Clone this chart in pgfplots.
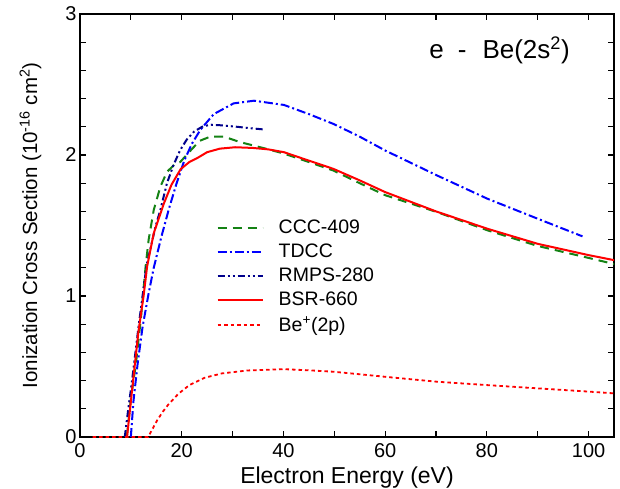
\documentclass[border=0pt]{standalone}
\usepackage{fontspec}
\setmainfont{Liberation Sans}
\usepackage{pgfplots}
\pgfplotsset{compat=1.18}
\usetikzlibrary{calc}
\definecolor{cccgreen}{RGB}{20,130,20}
\definecolor{tdccblue}{RGB}{0,0,255}
\definecolor{rmpsnavy}{RGB}{0,0,140}
\begin{document}
\begin{tikzpicture}
\begin{axis}[
    name=ax,
    scale only axis,
    width=534pt, height=423pt,
    xmin=0, xmax=105, ymin=0, ymax=3,
    xtick={0,20,...,100}, ytick={0,1,2,3},
    minor x tick num=1, minor y tick num=4,
    tick align=inside, major tick length=6pt, minor tick length=6pt,
    tick style={line width=1.2pt, black},
    axis line style={line width=1.5pt},
    /pgf/number format/assume math mode=true,
    tick label style={font=\fontsize{20}{22}\selectfont},
    xticklabel style={yshift=-3pt},
    xlabel style={font=\fontsize{23}{25}\selectfont, yshift=-2pt},
    ylabel style={font=\fontsize{20.5}{23}\selectfont, yshift=17pt},
    xlabel={Electron Energy (eV)},
    ylabel={Ionization Cross Section (10\textsuperscript{-16} cm\textsuperscript{2})},
    legend style={draw=none, fill=none, at={(0.25,0.523)}, anchor=north west,
        row sep=5pt, font=\fontsize{19.5}{22}\selectfont},
    legend cell align=left,
    legend image code/.code={\draw[#1] (0pt,0pt) -- (45pt,0pt); \path (58pt,0pt);},
]
\addplot[forget plot, cccgreen, line width=2pt, dash pattern=on 9pt off 6pt] coordinates {
 (9.2,0) (10,0.27) (11,0.52) (12,0.85) (12.9,1.21) (13.5,1.40) (14.5,1.61) (15.8,1.775)
 (17.1,1.88) (18.5,1.93) (19.7,1.95) (21.7,2.03) (23.5,2.10) (25.6,2.13) (28.3,2.13)
 (31.6,2.09) (36,2.05) (40.1,2.01) (45,1.95) (49.8,1.89) (55,1.80) (60,1.715)
 (70.2,1.595) (80.1,1.466) (90,1.355) (100,1.27) (105.2,1.225)};
\addplot[forget plot, tdccblue, line width=2pt, dash pattern=on 9pt off 3pt on 2pt off 3pt] coordinates {
 (10,0) (10.5,0.25) (11.3,0.51) (12.3,0.78) (13.5,1.02) (14.5,1.2) (16,1.42) (17.5,1.62)
 (19,1.80) (20.5,1.96) (22,2.08) (23.7,2.18) (26.3,2.29) (30.2,2.366) (34.2,2.385)
 (40.1,2.355) (45,2.29) (49.8,2.221) (55,2.13) (60,2.032) (70.2,1.855) (80.1,1.69)
 (90,1.548) (98.8,1.423)};
\addplot[forget plot, rmpsnavy, line width=2pt, dash pattern=on 7pt off 3pt on 2pt off 3pt on 2pt off 3pt] coordinates {
 (8.8,0) (9.5,0.2) (10.2,0.39) (11.5,0.78) (13.1,1.22) (14.9,1.50) (15.8,1.61) (17.1,1.80)
 (18.4,1.93) (19.7,2.035) (21,2.11) (22.4,2.165) (24,2.2) (25.6,2.215) (28,2.21)
 (30.9,2.2) (33.5,2.19) (36.5,2.18)};
\addplot[forget plot, red, line width=2pt] coordinates {
 (9.25,0) (10.5,0.42) (11.5,0.75) (12.5,1.0) (13.2,1.21) (14.5,1.445) (16.5,1.657)
 (18,1.79) (19.8,1.90) (21.5,1.95) (23,1.977) (25,2.02) (27.5,2.045) (30.5,2.055)
 (34,2.05) (37,2.04) (40.1,2.02) (45,1.96) (49.8,1.902) (55,1.82) (60,1.737)
 (70,1.60) (80.1,1.477) (90,1.37) (100,1.29) (105.2,1.253)};
\addplot[forget plot, red, line width=1.8pt, dash pattern=on 3.5pt off 3pt] coordinates {
 (2.5,0) (13.4,0) (14.3,0.06) (15.2,0.12) (16.3,0.18) (17.3,0.227) (19.3,0.305)
 (21.5,0.368) (24.5,0.42) (27.9,0.451) (33,0.472) (40.1,0.481) (45,0.473) (49.8,0.463)
 (55,0.445) (60,0.427) (70.2,0.392) (80.1,0.368) (90,0.345) (100,0.322) (105.2,0.309)};
\addlegendimage{cccgreen, line width=2pt, dash pattern=on 9pt off 6pt}
\addlegendentry{CCC-409}
\addlegendimage{tdccblue, line width=2pt, dash pattern=on 9pt off 3pt on 2pt off 3pt}
\addlegendentry{TDCC}
\addlegendimage{rmpsnavy, line width=2pt, dash pattern=on 7pt off 3pt on 2pt off 3pt on 2pt off 3pt}
\addlegendentry{RMPS-280}
\addlegendimage{red, line width=2pt}
\addlegendentry{BSR-660}
\addlegendimage{red, line width=1.8pt, dash pattern=on 3.5pt off 3pt}
\addlegendentry{Be\textsuperscript{+}(2p)}
\node[anchor=center, font=\fontsize{26}{30}\selectfont] at (axis cs:82.5,2.74)
  {e\hspace{14pt}-\hspace{16pt}Be(2s\textsuperscript{2})};
\end{axis}
\pgfresetboundingbox
\path[use as bounding box] ($(ax.south west)+(-80pt,-52pt)$) rectangle ($(ax.north east)+(6pt,14pt)$);
\end{tikzpicture}
\end{document}
